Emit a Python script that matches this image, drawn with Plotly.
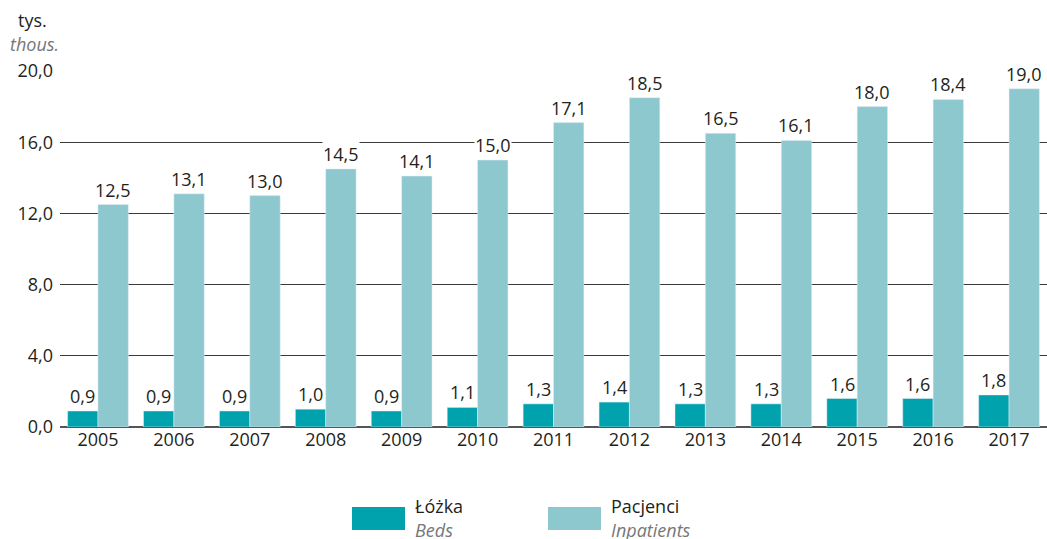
import plotly.graph_objects as go

years = ["2005", "2006", "2007", "2008", "2009", "2010", "2011",
         "2012", "2013", "2014", "2015", "2016", "2017"]
beds = [0.9, 0.9, 0.9, 1.0, 0.9, 1.1, 1.3, 1.4, 1.3, 1.3, 1.6, 1.6, 1.8]
inpatients = [12.5, 13.1, 13.0, 14.5, 14.1, 15.0, 17.1, 18.5, 16.5, 16.1, 18.0, 18.4, 19.0]
y_ticks = [0, 4, 8, 12, 16, 20]
y_tick_text = ["0,0", "4,0", "8,0", "12,0", "16,0", "20,0"]

BEDS_COLOR = "#00A3AD"
INPAT_COLOR = "#8CC8CE"
TEXT = "#231F20"
GREY_TEXT = "#76777A"
FONT = "Open Sans"
FS = 18

x = list(range(len(years)))

fig = go.Figure()
fig.add_trace(go.Bar(x=x, y=beds, name="Łóżka", marker_color=BEDS_COLOR))
fig.add_trace(go.Bar(x=x, y=inpatients, name="Pacjenci", marker_color=INPAT_COLOR))


def fmt(v):
    return f"{v:.1f}".replace(".", ",")


# value labels, with a white box that masks the gridlines behind them
for i in x:
    for off, series in ((-0.2, beds), (0.2, inpatients)):
        fig.add_annotation(x=i + off, y=series[i], text=fmt(series[i]),
                           showarrow=False, yanchor="bottom", yshift=2,
                           bgcolor="white", borderpad=0,
                           font=dict(family=FONT, size=FS, color=TEXT))

W, H = 1047, 539
ml, mr, mt, mb = 60, 0, 71, 112
pw, ph = W - ml - mr, H - mt - mb


def px_x(p):
    return (p - ml) / pw


def px_y(p):
    return (H - mb - p) / ph


# unit label
fig.add_annotation(xref="paper", yref="paper", x=px_x(32), y=px_y(20), text="tys.",
                   showarrow=False, xanchor="center", yanchor="middle",
                   font=dict(family=FONT, size=FS, color=TEXT))
fig.add_annotation(xref="paper", yref="paper", x=px_x(34), y=px_y(44), text="<i>thous.</i>",
                   showarrow=False, xanchor="center", yanchor="middle",
                   font=dict(family=FONT, size=FS, color=GREY_TEXT))

# custom legend
legend_items = [("Łóżka", "Beds", BEDS_COLOR, 352), ("Pacjenci", "Inpatients", INPAT_COLOR, 548)]
for pl, en, col, px in legend_items:
    fig.add_shape(type="rect", xref="paper", yref="paper",
                  x0=px_x(px), x1=px_x(px + 53), y0=px_y(530), y1=px_y(507),
                  fillcolor=col, line_width=0, layer="above")
    fig.add_annotation(xref="paper", yref="paper", x=px_x(px + 61), y=px_y(506),
                       text=pl, showarrow=False, xanchor="left", yanchor="middle",
                       font=dict(family=FONT, size=FS, color=TEXT))
    fig.add_annotation(xref="paper", yref="paper", x=px_x(px + 61), y=px_y(530),
                       text=f"<i>{en}</i>", showarrow=False, xanchor="left", yanchor="middle",
                       font=dict(family=FONT, size=FS, color=GREY_TEXT))

fig.update_layout(
    width=W, height=H,
    margin=dict(l=ml, r=mr, t=mt, b=mb),
    barmode="group", bargap=0.2, bargroupgap=0,
    showlegend=False,
    plot_bgcolor="white", paper_bgcolor="white",
    font=dict(family=FONT, size=FS, color=TEXT),
    xaxis=dict(tickmode="array", tickvals=x, ticktext=years, range=[-0.5, 12.5],
               showgrid=False, zeroline=False, showline=False, ticks="",
               tickfont=dict(family=FONT, size=FS, color=TEXT)),
    yaxis=dict(range=[0, 20], tickmode="array", tickvals=y_ticks, ticktext=y_tick_text,
               showgrid=True, gridcolor="#3a3a3a", gridwidth=1,
               zeroline=True, zerolinecolor="#555555", zerolinewidth=2,
               showline=False, ticks="", ticklabelstandoff=6,
               tickfont=dict(family=FONT, size=FS, color=TEXT)),
)

fig.write_html("out.html")
